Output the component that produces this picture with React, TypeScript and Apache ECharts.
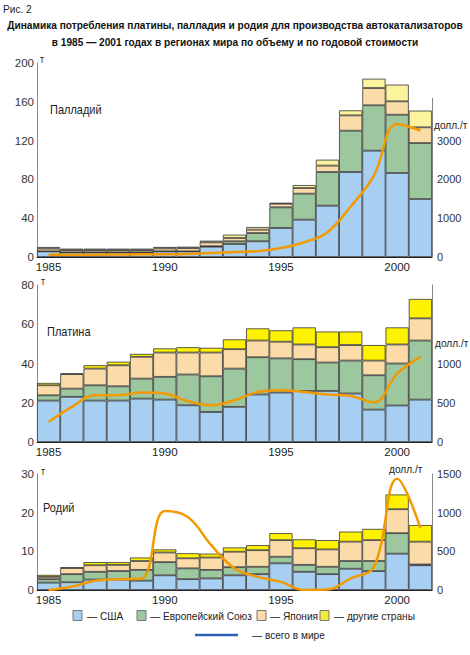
import React, { useEffect, useRef } from "react";
import * as echarts from "echarts";

const FONT = '"Liberation Sans", Arial, Helvetica, sans-serif';

const years = ["1985","1986","1987","1988","1989","1990","1991","1992","1993","1994","1995","1996","1997","1998","1999","2000","2001"];

// Palladium, t
const pdUSA = [5.8, 4.8, 4.8, 4.8, 4.8, 5.8, 5.8, 10.6, 13.4, 16.2, 29.9, 38.5, 52.9, 87.6, 109.6, 86.6, 59.8];
const pdEU = [0, 0, 0, 0, 0, 0, 0, 0.5, 2.8, 8.5, 21.3, 26.8, 34.7, 42.6, 46.8, 60.1, 57.7];
const pdJapan = [2.8, 2.3, 2.3, 2.3, 2.3, 3.0, 3.3, 4.0, 3.4, 3.5, 3.8, 5.8, 6.6, 15.8, 17.8, 13.8, 16.2];
const pdOther = [1.7, 1.5, 1.5, 1.5, 1.5, 1.5, 1.5, 1.7, 3.4, 2.7, 0.7, 3.1, 6.1, 5.2, 9.6, 17.2, 17.2];
const pdValue = [55, 55, 60, 65, 70, 70, 80, 100, 130, 150, 230, 380, 640, 1300, 2100, 3430, 3260];

// Platinum, t
const ptUSA = [21.1, 23.0, 21.1, 21.1, 22.1, 21.6, 18.7, 15.3, 17.9, 24.2, 25.2, 26.0, 26.0, 24.7, 16.5, 18.6, 21.6];
const ptEU = [2.7, 4.2, 7.8, 7.3, 10.2, 11.6, 15.7, 18.2, 19.5, 19.0, 17.4, 16.2, 14.5, 16.8, 17.5, 21.4, 30.1];
const ptJapan = [5.1, 7.4, 8.5, 10.7, 11.1, 12.4, 11.2, 12.1, 9.9, 8.5, 8.5, 7.5, 7.8, 7.9, 7.5, 9.7, 11.3];
const ptOther = [1.2, 0.3, 1.7, 1.8, 1.5, 2.1, 2.7, 2.4, 5.0, 6.2, 5.8, 8.7, 8.0, 6.9, 7.9, 8.7, 9.9];
const ptValue = [255, 447, 596, 596, 630, 617, 519, 468, 532, 638, 660, 638, 604, 587, 505, 870, 1085];

// Rhodium, t
const rhUSA = [1.9, 2.0, 2.7, 2.7, 2.4, 3.8, 2.8, 3.0, 3.8, 4.1, 6.9, 4.7, 4.1, 5.5, 4.9, 9.4, 6.4];
const rhEU = [0.9, 2.1, 2.0, 2.2, 2.8, 3.4, 2.8, 2.2, 2.1, 1.9, 1.7, 1.8, 1.9, 2.0, 2.6, 5.3, 0.2];
const rhJapan = [0.6, 1.6, 1.7, 1.6, 2.3, 2.5, 2.6, 3.2, 4.0, 4.3, 4.3, 4.3, 4.5, 5.0, 5.4, 6.2, 5.9];
const rhOther = [0.5, 0.1, 0.8, 0.7, 0.9, 0.8, 1.3, 1.0, 1.1, 1.3, 1.8, 2.3, 2.4, 2.6, 2.9, 3.8, 4.3];
const rhValue = [0, 45, 120, 140, 150, 1020, 940, 580, 280, 170, 105, 0, 5, 150, 300, 1440, 800];

const legendNames = ["— США", "— Европейский Союз", "— Япония", "— другие страны"];
const lineLegend = "— всего в мире";

const C_USA = "#a7cff1";
const C_EU = "#9dc79f";
const C_JP = "#fbdba8";
const C_OTHER_BRIGHT = "#fff200";
const C_OTHER_PALE = "#fbf39e";
const C_LINE = "#f39a00";

const panels = [
  { name: "Палладий", top: 63, height: 194, lMax: 200, lInt: 40, rMax: 5000, rInt: 1000, rShow: 3000, rLine: false,
    stacks: [pdUSA, pdEU, pdJapan, pdOther], value: pdValue, other: C_OTHER_PALE },
  { name: "Платина", top: 285, height: 157, lMax: 80, lInt: 20, rMax: 2000, rInt: 500, rShow: 1000, rLine: true,
    stacks: [ptUSA, ptEU, ptJapan, ptOther], value: ptValue, other: C_OTHER_BRIGHT },
  { name: "Родий", top: 474, height: 116, lMax: 30, lInt: 10, rMax: 1500, rInt: 500, rShow: 1500, rLine: true,
    stacks: [rhUSA, rhEU, rhJapan, rhOther], value: rhValue, other: C_OTHER_BRIGHT },
];

const GRID_LEFT = 37;
const GRID_WIDTH = 395;
const SX = 0.88;

export default function App() {
  const ref = useRef<HTMLDivElement>(null);
  useEffect(() => {
    if (!ref.current) return;
    const chart = echarts.init(ref.current, undefined, { renderer: "svg" });
    const grids: any[] = [];
    const xAxes: any[] = [];
    const yAxes: any[] = [];
    const series: any[] = [];
    panels.forEach((p, i) => {
      grids.push({ left: GRID_LEFT, top: p.top, width: GRID_WIDTH, height: p.height });
      xAxes.push({
        type: "category", gridIndex: i, data: years, boundaryGap: true,
        axisLine: { show: true, lineStyle: { color: "#222", width: 1 } },
        axisTick: { show: false },
        axisLabel: { interval: 4, fontSize: 11.5, color: "#222", margin: 4, fontFamily: FONT },
      });
      yAxes.push({
        type: "value", gridIndex: i, min: 0, max: p.lMax, interval: p.lInt, position: "left",
        axisLine: { show: true, lineStyle: { color: "#888", width: 1 } },
        axisTick: { show: false }, splitLine: { show: false },
        axisLabel: { fontSize: 11.5, color: "#333", margin: 3, fontFamily: FONT },
      });
      yAxes.push({
        type: "value", gridIndex: i, min: 0, max: p.rMax, interval: p.rInt, position: "right",
        axisLine: { show: p.rLine, lineStyle: { color: "#888", width: 1 } },
        axisTick: { show: false }, splitLine: { show: false },
        axisLabel: {
          fontSize: 11, color: "#333", margin: 5, fontFamily: FONT,
          formatter: (v: number) => (v <= p.rShow ? String(v) : ""),
        },
      });
      const colors = [C_USA, C_EU, C_JP, p.other];
      p.stacks.forEach((arr, k) => {
        series.push({
          type: "bar", xAxisIndex: i, yAxisIndex: i * 2, stack: "s" + i, data: arr,
          barCategoryGap: 0, barWidth: "100%",
          itemStyle: { color: colors[k], borderColor: "#333333", borderWidth: 0.8 },
          silent: true,
        });
      });
      series.push({
        type: "line", xAxisIndex: i, yAxisIndex: i * 2 + 1, data: p.value, smooth: 0.4,
        showSymbol: false, symbol: "none", lineStyle: { color: C_LINE, width: 2.5 }, z: 5, silent: true,
      });
    });

    const txt = (x: number, y: number, text: string, size: number, extra: any = {}) => ({
      type: "text", x, y, scaleX: SX,
      style: { text, fontSize: size, fontFamily: FONT, fill: "#222", textVerticalAlign: "middle", ...extra },
    });

    const legendRectX = [73, 137, 257, 320];
    const legendTextX = [87, 150, 270, 334];
    const legendColors = [C_USA, C_EU, C_JP, "#f4ec3c"];

    const graphic: any[] = [
      txt(3, 9, "Рис. 2", 11.5),
      txt(235, 25, "Динамика потребления платины, палладия и родия для производства автокатализаторов", 11.5, { fontWeight: "bold", textAlign: "center", fill: "#111" }),
      txt(235, 42, "в 1985 — 2001 годах в регионах мира по объему и по годовой стоимости", 11.5, { fontWeight: "bold", textAlign: "center", fill: "#111" }),
      txt(40, 59, "т", 10),
      txt(41, 281, "т", 10),
      txt(41, 471, "т", 10),
      txt(50, 109, "Палладий", 12.5),
      txt(47, 331, "Платина", 12.5),
      txt(43, 507, "Родий", 12.5),
      txt(434, 125, "долл./т", 11.5),
      txt(435, 343, "долл./т", 11.5),
      txt(389, 469, "долл./т", 11.5),
      { type: "line", shape: { x1: 432.5, y1: 98, x2: 432.5, y2: 257 }, style: { stroke: "#888", lineWidth: 1 } },
      { type: "line", shape: { x1: 195, y1: 635, x2: 238, y2: 635 }, style: { stroke: "#2a63b6", lineWidth: 2.5 } },
      txt(252, 635, lineLegend, 11.5),
    ];
    legendNames.forEach((n, k) => {
      graphic.push({ type: "rect", shape: { x: legendRectX[k], y: 610.5, width: 9, height: 10 }, style: { fill: legendColors[k], stroke: "#777", lineWidth: 1 } });
      graphic.push(txt(legendTextX[k], 615.5, n, 11.5));
    });

    chart.setOption({
      animation: false,
      backgroundColor: "#ffffff",
      textStyle: { fontFamily: FONT },
      grid: grids,
      xAxis: xAxes,
      yAxis: yAxes,
      series,
      graphic,
    });
    return () => chart.dispose();
  }, []);
  return <div ref={ref} style={{ position: "absolute", left: 0, top: 0, width: 470, height: 655 }} />;
}
